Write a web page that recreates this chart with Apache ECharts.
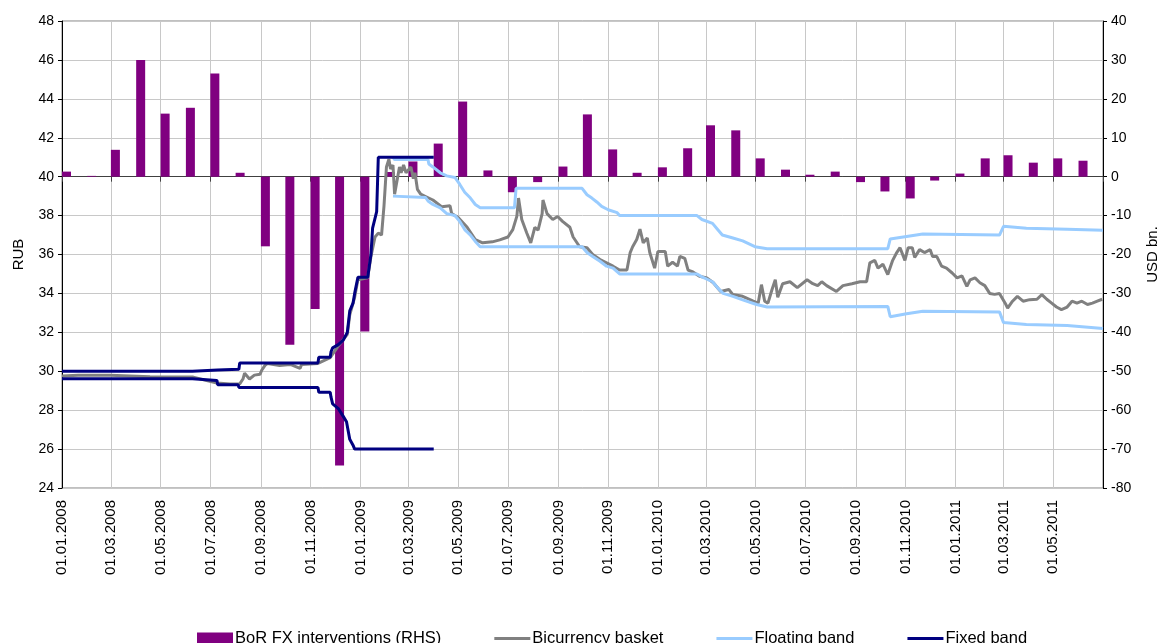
<!DOCTYPE html>
<html>
<head>
<meta charset="utf-8">
<script src="https://cdn.jsdelivr.net/npm/echarts@6/dist/echarts.min.js"></script>
<style>
html,body{margin:0;padding:0;background:#fff;}
#chart{width:1161px;height:643px;}
</style>
</head>
<body>
<div id="chart"></div>
<script>
// ---------------- DATA ----------------
const xStart = '2008-01-01';
const xEnd = '2011-07-01';

const xTickDates = ['2008-01-01','2008-03-01','2008-05-01','2008-07-01','2008-09-01','2008-11-01',
  '2009-01-01','2009-03-01','2009-05-01','2009-07-01','2009-09-01','2009-11-01',
  '2010-01-01','2010-03-01','2010-05-01','2010-07-01','2010-09-01','2010-11-01',
  '2011-01-01','2011-03-01','2011-05-01','2011-07-01'];
const xLabelDates = xTickDates.slice(0, -1);

const interventionMonths = [
  '2008-01-01','2008-02-01','2008-03-01','2008-04-01','2008-05-01','2008-06-01',
  '2008-07-01','2008-08-01','2008-09-01','2008-10-01','2008-11-01','2008-12-01',
  '2009-01-01','2009-02-01','2009-03-01','2009-04-01','2009-05-01','2009-06-01',
  '2009-07-01','2009-08-01','2009-09-01','2009-10-01','2009-11-01','2009-12-01',
  '2010-01-01','2010-02-01','2010-03-01','2010-04-01','2010-05-01','2010-06-01',
  '2010-07-01','2010-08-01','2010-09-01','2010-10-01','2010-11-01','2010-12-01',
  '2011-01-01','2011-02-01','2011-03-01','2011-04-01','2011-05-01','2011-06-01'];
const interventions = [
  1.3, 0.2, 6.9, 30.0, 16.2, 17.7,
  26.5, 1.0, -17.9, -43.2, -34.0, -74.2,
  -39.8, 1.2, 3.9, 8.5, 19.3, 1.6,
  -4.0, -1.4, 2.6, 16.0, 7.0, 1.0,
  2.4, 7.3, 13.2, 11.9, 4.7, 1.8,
  0.5, 1.3, -1.4, -3.8, -5.6, -1.0,
  0.8, 4.7, 5.5, 3.6, 4.7, 4.1];

const basket = [
  ['2008-01-01',29.75],['2008-01-21',29.8],['2008-02-29',29.8],['2008-04-18',29.72],['2008-06-10',29.7],
  ['2008-06-24',29.55],['2008-07-09',29.4],['2008-07-25',29.35],['2008-08-06',29.35],['2008-08-10',29.6],
  ['2008-08-12',29.9],['2008-08-18',29.6],['2008-08-24',29.8],['2008-08-31',29.85],['2008-09-02',30.05],
  ['2008-09-06',30.3],['2008-09-09',30.4],['2008-09-24',30.3],['2008-10-07',30.35],['2008-10-19',30.15],
  ['2008-10-21',30.35],['2008-11-10',30.4],['2008-11-25',30.7],['2008-12-05',31.3],['2008-12-16',31.9],
  ['2008-12-19',32.9],['2008-12-25',33.8],['2008-12-29',34.7],['2009-01-10',34.8],['2009-01-14',35.9],
  ['2009-01-19',36.9],['2009-01-23',37.1],['2009-01-27',37.0],['2009-01-30',38.5],['2009-02-02',40.5],
  ['2009-02-05',40.9],['2009-02-07',40.4],['2009-02-10',40.6],['2009-02-12',39.1],['2009-02-14',39.2],
  ['2009-02-18',40.5],['2009-02-20',40.2],['2009-02-23',40.6],['2009-02-26',40.2],['2009-03-04',40.5],
  ['2009-03-07',39.9],['2009-03-09',40.2],['2009-03-12',39.35],['2009-03-16',39.1],['2009-03-22',38.98],
  ['2009-03-31',38.8],['2009-04-11',38.45],['2009-04-21',38.5],['2009-04-23',38.1],['2009-05-01',37.9],
  ['2009-05-12',37.4],['2009-05-22',36.77],['2009-05-31',36.6],['2009-06-12',36.65],['2009-06-21',36.75],
  ['2009-07-01',36.9],['2009-07-07',37.28],['2009-07-12',37.97],['2009-07-14',38.9],['2009-07-18',37.8],
  ['2009-07-24',37.12],['2009-07-29',36.6],['2009-08-03',37.4],['2009-08-07',37.25],['2009-08-12',38.1],
  ['2009-08-13',38.8],['2009-08-18',38.1],['2009-08-25',37.8],['2009-08-31',37.95],['2009-09-06',37.7],
  ['2009-09-15',37.4],['2009-09-19',36.9],['2009-09-27',36.4],['2009-10-06',36.35],['2009-10-13',36.0],
  ['2009-10-22',35.74],['2009-10-30',35.57],['2009-11-07',35.4],['2009-11-15',35.2],['2009-11-24',35.2],
  ['2009-11-28',36.1],['2009-12-01',36.4],['2009-12-06',36.77],['2009-12-10',37.3],['2009-12-14',36.6],
  ['2009-12-19',36.85],['2009-12-22',36.1],['2009-12-28',35.3],['2010-01-01',36.15],['2010-01-10',36.15],
  ['2010-01-13',35.4],['2010-01-19',35.6],['2010-01-25',35.4],['2010-01-28',35.9],['2010-02-03',35.8],
  ['2010-02-07',35.2],['2010-02-13',35.1],['2010-02-21',34.88],['2010-03-02',34.8],['2010-03-10',34.55],
  ['2010-03-19',34.1],['2010-03-29',34.2],['2010-04-03',33.94],['2010-04-15',33.85],['2010-04-28',33.6],
  ['2010-05-04',33.5],['2010-05-08',34.45],['2010-05-12',33.6],['2010-05-16',33.5],['2010-05-21',34.2],
  ['2010-05-25',34.7],['2010-05-28',33.8],['2010-06-03',34.5],['2010-06-12',34.6],['2010-06-21',34.3],
  ['2010-07-03',34.7],['2010-07-10',34.5],['2010-07-16',34.4],['2010-07-21',34.6],['2010-07-27',34.4],
  ['2010-08-08',34.1],['2010-08-16',34.4],['2010-08-27',34.5],['2010-09-06',34.6],['2010-09-14',34.6],
  ['2010-09-18',35.57],['2010-09-24',35.7],['2010-09-28',35.3],['2010-10-04',35.5],['2010-10-10',34.97],
  ['2010-10-16',35.7],['2010-10-21',36.1],['2010-10-25',36.35],['2010-10-31',35.7],['2010-11-04',36.35],
  ['2010-11-09',36.35],['2010-11-12',35.85],['2010-11-18',36.25],['2010-11-24',36.1],['2010-12-01',36.25],
  ['2010-12-04',35.9],['2010-12-09',35.9],['2010-12-15',35.4],['2010-12-21',35.3],['2010-12-28',35.05],
  ['2011-01-03',34.8],['2011-01-09',34.9],['2011-01-15',34.36],['2011-01-19',34.7],['2011-01-25',34.8],
  ['2011-01-31',34.55],['2011-02-06',34.4],['2011-02-12',34.0],['2011-02-18',33.95],['2011-02-24',34.0],
  ['2011-03-03',33.5],['2011-03-06',33.25],['2011-03-12',33.6],['2011-03-18',33.85],['2011-03-25',33.6],
  ['2011-04-02',33.68],['2011-04-11',33.7],['2011-04-17',33.94],['2011-04-23',33.7],['2011-04-29',33.5],
  ['2011-05-05',33.3],['2011-05-11',33.17],['2011-05-18',33.3],['2011-05-24',33.6],['2011-05-30',33.5],
  ['2011-06-05',33.6],['2011-06-12',33.43],['2011-06-18',33.5],['2011-06-24',33.6],['2011-06-30',33.7]];

const floatingUpper = [
  ['2009-02-10',41.0],['2009-02-12',40.88],['2009-03-25',40.88],['2009-03-26',40.65],['2009-03-31',40.5],
  ['2009-04-09',40.2],['2009-04-17',40.04],['2009-04-27',39.96],['2009-05-03',39.6],['2009-05-09',39.2],
  ['2009-05-16',38.9],['2009-05-22',38.57],['2009-05-28',38.4],['2009-07-09',38.4],['2009-07-11',39.4],
  ['2009-09-30',39.4],['2009-10-06',39.07],['2009-10-12',38.9],['2009-10-18',38.7],['2009-10-24',38.47],
  ['2009-11-01',38.3],['2009-11-12',38.15],['2009-11-15',38.0],['2010-02-18',38.0],['2010-02-24',37.8],
  ['2010-03-09',37.6],['2010-03-15',37.3],['2010-03-21',37.0],['2010-04-03',36.85],['2010-04-15',36.7],
  ['2010-04-30',36.4],['2010-05-15',36.3],['2010-10-10',36.3],['2010-10-13',36.8],['2010-11-02',36.93],
  ['2010-11-22',37.05],['2011-02-24',37.0],['2011-03-01',37.45],['2011-03-29',37.35],['2011-05-18',37.3],
  ['2011-07-01',37.25]];

const floatingLower = [
  ['2009-02-10',39.0],['2009-03-22',38.93],['2009-03-25',38.75],['2009-03-31',38.57],['2009-04-09',38.4],
  ['2009-04-17',38.1],['2009-04-27',38.0],['2009-05-03',37.7],['2009-05-09',37.28],['2009-05-16',37.0],
  ['2009-05-22',36.67],['2009-05-28',36.4],['2009-09-30',36.4],['2009-10-06',36.1],['2009-10-13',35.9],
  ['2009-10-22',35.65],['2009-10-30',35.4],['2009-11-07',35.3],['2009-11-15',35.0],['2010-02-18',35.0],
  ['2010-02-24',34.85],['2010-03-09',34.6],['2010-03-15',34.3],['2010-03-22',34.0],['2010-04-03',33.85],
  ['2010-04-15',33.67],['2010-05-02',33.43],['2010-05-15',33.3],['2010-10-10',33.33],['2010-10-13',32.8],
  ['2010-11-02',32.96],['2010-11-22',33.08],['2011-02-24',33.05],['2011-03-01',32.5],['2011-03-29',32.4],
  ['2011-05-18',32.35],['2011-07-01',32.2]];

const fixedUpper = [
  ['2008-01-01',30.0],['2008-06-09',30.0],['2008-06-10',30.06],['2008-07-10',30.06],['2008-07-11',30.1],
  ['2008-08-05',30.1],['2008-08-06',30.43],['2008-11-10',30.43],['2008-11-11',30.72],['2008-11-25',30.72],
  ['2008-11-26',31.0],['2008-11-28',31.2],['2008-12-05',31.37],['2008-12-11',31.6],['2008-12-16',32.0],
  ['2008-12-19',33.1],['2008-12-23',33.5],['2008-12-25',34.0],['2008-12-29',34.83],['2009-01-10',34.83],
  ['2009-01-14',36.0],['2009-01-16',37.35],['2009-01-21',38.2],['2009-01-23',41.0],['2009-04-01',41.0]];

const fixedLower = [
  ['2008-01-01',29.62],['2008-06-09',29.62],['2008-06-10',29.53],['2008-07-09',29.53],['2008-07-10',29.31],
  ['2008-08-04',29.31],['2008-08-05',29.17],['2008-11-10',29.17],['2008-11-11',28.92],['2008-11-25',28.92],
  ['2008-11-26',28.67],['2008-11-28',28.32],['2008-12-05',28.08],['2008-12-11',27.68],['2008-12-15',27.4],
  ['2008-12-19',26.5],['2008-12-23',26.2],['2008-12-25',26.0],['2009-04-01',26.0]];

// ---------------- HELPERS ----------------
const DAY = 86400000;
const ts = s => new Date(s + 'T00:00:00Z').getTime();
const pad = n => (n < 10 ? '0' : '') + n;
const fmtDate = v => { const d = new Date(v); return pad(d.getUTCDate()) + '.' + pad(d.getUTCMonth() + 1) + '.' + d.getUTCFullYear(); };
const toSeries = arr => arr.map(p => [ts(p[0]), p[1]]);
const barOffset = 5.5 * DAY; // bars drawn just right of the month start, as in the original

const FONT = '"Liberation Sans", Arial, sans-serif';
const C_BAR = '#800080', C_BASKET = '#808080', C_FLOAT = '#99ccff', C_FIXED = '#000080';

const chart = echarts.init(document.getElementById('chart'), null, {renderer: 'canvas'});
const linePath = 'path://M0,0H36V3H0Z';

chart.setOption({
  animation: false,
  backgroundColor: '#fff',
  textStyle: {fontFamily: FONT},
  grid: {left: 62, right: 58, top: 21, bottom: 155, show: true, borderColor: '#808080', borderWidth: 1,
         containLabel: false, outerBoundsMode: 'none'},
  legend: {
    left: 192, top: 625, itemGap: 53, itemWidth: 36, itemHeight: 12,
    textStyle: {fontFamily: FONT, fontSize: 16.5, color: '#000', padding: [0, 0, 0, -3]},
    data: [
      {name: 'BoR FX interventions (RHS)', icon: 'rect'},
      {name: 'Bicurrency basket', icon: linePath},
      {name: 'Floating band', icon: linePath},
      {name: 'Fixed band', icon: linePath}
    ]
  },
  xAxis: {
    type: 'value', min: ts(xStart), max: ts(xEnd),
    axisLine: {show: true, lineStyle: {color: '#404040', width: 1}},
    axisTick: {show: true, length: 5, customValues: xTickDates.map(ts), lineStyle: {color: '#404040'}},
    axisLabel: {customValues: xLabelDates.map(ts), rotate: 90, formatter: fmtDate, fontSize: 15, color: '#000', fontFamily: FONT, margin: 12},
    splitLine: {show: true, lineStyle: {color: '#c8c8c8', width: 1}}
  },
  yAxis: [
    {
      type: 'value', min: 24, max: 48, interval: 2, position: 'left',
      name: 'RUB', nameLocation: 'middle', nameRotate: 90, nameGap: 36,
      nameTextStyle: {fontSize: 15, color: '#000', fontFamily: FONT},
      axisLine: {show: true, lineStyle: {color: '#000'}},
      axisTick: {show: true, length: 4, lineStyle: {color: '#000'}},
      axisLabel: {fontSize: 14, color: '#000', fontFamily: FONT, margin: 8},
      splitLine: {show: true, lineStyle: {color: '#c8c8c8', width: 1}}
    },
    {
      type: 'value', min: -80, max: 40, interval: 10, position: 'right',
      name: 'USD bn.', nameLocation: 'middle', nameRotate: 90, nameGap: 42,
      nameTextStyle: {fontSize: 15, color: '#000', fontFamily: FONT},
      axisLine: {show: true, lineStyle: {color: '#000'}},
      axisTick: {show: true, length: 4, lineStyle: {color: '#000'}},
      axisLabel: {fontSize: 14, color: '#000', fontFamily: FONT, margin: 8},
      splitLine: {show: false}
    }
  ],
  series: [
    {
      name: 'BoR FX interventions (RHS)', type: 'bar', yAxisIndex: 1, barWidth: 9,
      itemStyle: {color: C_BAR},
      data: interventionMonths.map((m, i) => [ts(m) + barOffset, interventions[i]]),
      z: 1
    },
    {
      name: 'Bicurrency basket', type: 'line', yAxisIndex: 0, showSymbol: false, symbol: 'none',
      lineStyle: {color: C_BASKET, width: 3}, itemStyle: {color: C_BASKET},
      data: toSeries(basket), z: 2
    },
    {
      name: 'Floating band', type: 'line', yAxisIndex: 0, showSymbol: false, symbol: 'none',
      lineStyle: {color: C_FLOAT, width: 3}, itemStyle: {color: C_FLOAT},
      data: toSeries(floatingUpper), z: 3
    },
    {
      name: 'Floating band', type: 'line', yAxisIndex: 0, showSymbol: false, symbol: 'none',
      lineStyle: {color: C_FLOAT, width: 3}, itemStyle: {color: C_FLOAT},
      data: toSeries(floatingLower), z: 3
    },
    {
      name: 'Fixed band', type: 'line', yAxisIndex: 0, showSymbol: false, symbol: 'none',
      lineStyle: {color: C_FIXED, width: 3}, itemStyle: {color: C_FIXED},
      data: toSeries(fixedUpper), z: 4
    },
    {
      name: 'Fixed band', type: 'line', yAxisIndex: 0, showSymbol: false, symbol: 'none',
      lineStyle: {color: C_FIXED, width: 3}, itemStyle: {color: C_FIXED},
      data: toSeries(fixedLower), z: 4
    }
  ]
});
</script>
</body>
</html>
